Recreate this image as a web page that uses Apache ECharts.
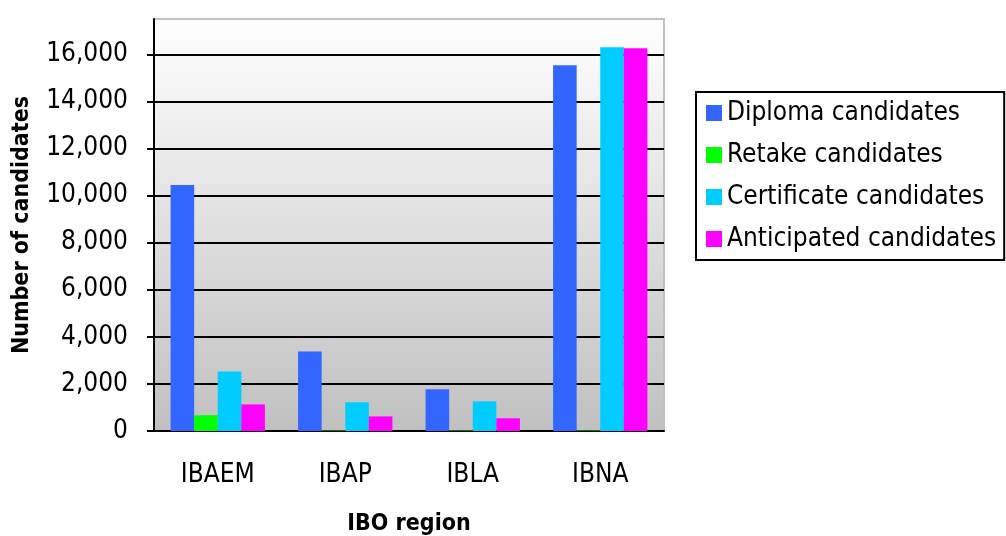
<!DOCTYPE html>
<html>
<head>
<meta charset="utf-8">
<script src="https://cdn.jsdelivr.net/npm/echarts@6/dist/echarts.min.js"></script>
<style>
html,body{margin:0;padding:0;background:#fff;}
#chart{width:1006px;height:536px;}
</style>
</head>
<body>
<div id="chart"></div>
<script>
const categories = ['IBAEM', 'IBAP', 'IBLA', 'IBNA'];
const seriesNames = ['Diploma candidates', 'Retake candidates', 'Certificate candidates', 'Anticipated candidates'];
const diploma = [10450, 3380, 1770, 15540];
const retake = [670, 20, 20, 20];
const certificate = [2530, 1220, 1260, 16300];
const anticipated = [1130, 620, 540, 16260];
const yTicks = [0, 2000, 4000, 6000, 8000, 10000, 12000, 14000, 16000];
const colors = ['#3366FF', '#00FF00', '#00CCFF', '#FF00FF'];

const FONT = '"DejaVu Sans Condensed", "DejaVu Sans", sans-serif';
const chart = echarts.init(document.getElementById('chart'));
const values = [diploma, retake, certificate, anticipated];

chart.setOption({
  animation: false,
  grid: {
    left: 154, right: 342, top: 19, bottom: 105,
    containLabel: false,
    outerBoundsMode: 'none',
    show: true,
    borderColor: '#c0c0c0',
    borderWidth: 2,
    backgroundColor: new echarts.graphic.LinearGradient(0, 0, 0, 1, [
      {offset: 0, color: '#ffffff'},
      {offset: 1, color: '#c0c0c0'}
    ])
  },
  legend: {
    orient: 'vertical',
    left: 696, top: 92,
    padding: [8, 8, 8, 10],
    itemWidth: 16, itemHeight: 16,
    itemGap: 16,
    itemTextGap: 8,
    itemStyle: {borderWidth: 0},
    icon: 'rect',
    borderColor: '#000', borderWidth: 2,
    backgroundColor: '#fff',
    textStyle: {fontFamily: FONT, fontSize: 26, color: '#000', lineHeight: 26},
    data: seriesNames
  },
  xAxis: {
    type: 'category',
    data: categories,
    name: 'IBO region',
    nameLocation: 'middle',
    nameGap: 82,
    nameTextStyle: {fontFamily: FONT, fontSize: 23, fontWeight: 'bold', color: '#000'},
    axisLine: {lineStyle: {color: '#000', width: 2}},
    axisTick: {length: 9, lineStyle: {color: '#000', width: 2}},
    axisLabel: {fontFamily: FONT, fontSize: 26, color: '#000', margin: 31}
  },
  yAxis: {
    type: 'value',
    min: 0, max: 17500, interval: 2000,
    name: 'Number of candidates',
    nameLocation: 'middle',
    nameGap: 120,
    nameTextStyle: {fontFamily: FONT, fontSize: 23, fontWeight: 'bold', color: '#000'},
    axisLine: {show: true, lineStyle: {color: '#000', width: 2}},
    axisTick: {show: true, length: 7, customValues: yTicks, lineStyle: {color: '#000', width: 2}},
    axisLabel: {
      fontFamily: FONT, fontSize: 26, color: '#000', margin: 26,
      customValues: yTicks,
      formatter: v => v.toLocaleString('en-US')
    },
    splitLine: {show: true, showMinLine: false, showMaxLine: true, lineStyle: {color: '#000', width: 2}}
  },
  series: seriesNames.map((n, i) => ({
    name: n,
    type: 'bar',
    data: values[i],
    barGap: '0%',
    barCategoryGap: '26%',
    itemStyle: {color: colors[i]},
    z: 3
  }))
});
</script>
</body>
</html>
